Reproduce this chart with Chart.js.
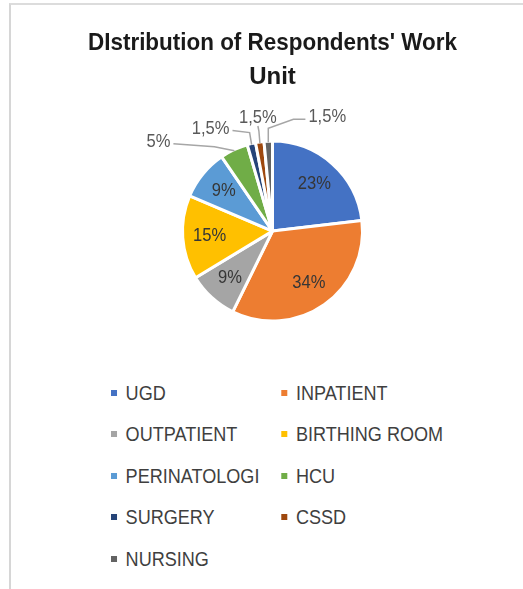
<!DOCTYPE html>
<html>
<head>
<meta charset="utf-8">
<script src="https://cdn.jsdelivr.net/npm/chart.js@4.4.1/dist/chart.umd.min.js"></script>
<style>
  html, body { margin: 0; padding: 0; background: #fff; }
  body { width: 523px; height: 589px; position: relative; overflow: hidden; }
  .frame { position: absolute; left: 9px; top: 3px; width: 514px; height: 586px;
           border-left: 2px solid #d6d6d6; border-top: 2px solid #dcdcdc; }
  #pie { position: absolute; left: 0; top: 0; }
  #legend { position: absolute; left: 111px; top: 372px; display: grid;
            grid-template-columns: 198px 200px; grid-auto-rows: 41.5px;
            font-family: 'Liberation Sans', Arial, sans-serif;
            font-size: 21px; color: #3f3f3f;
            transform: scaleX(0.86); transform-origin: 0 0; }
  #legend div { display: flex; align-items: center; white-space: nowrap; }
  #legend span.box { width: 7px; height: 6px; margin-right: 10px; display: inline-block; }
</style>
</head>
<body>
<div class="frame"></div>
<canvas id="pie" width="523" height="360"></canvas>
<div id="legend"></div>
<script>
// work units and share of respondents (%)
const units = ['UGD', 'INPATIENT', 'OUTPATIENT', 'BIRTHING ROOM', 'PERINATOLOGI', 'HCU', 'SURGERY', 'CSSD', 'NURSING'];
const shares = [23, 34, 9, 15, 9, 5, 1.5, 1.5, 1.5];
const shareLabels = ['23%', '34%', '9%', '15%', '9%', '5%', '1,5%', '1,5%', '1,5%'];
const colors = ['#4472C4', '#ED7D31', '#A5A5A5', '#FFC000', '#5B9BD5', '#70AD47', '#264478', '#9E480E', '#636363'];

// leader-line callouts for the thin slices: label centre + elbow, relative to the slice edge
const callouts = {
  5: { lx: -76, ly: -9, ex: -20, ey: -4 },
  6: { lx: -41, ly: -16, ex: -2, ey: -12 },
  7: { lx: -2, ly: -25, ex: -1, ey: -12 },
  8: { lx: 59, ly: -25, ex: 0, ey: -14 }
};

const FONT = "'Liberation Sans', Arial, sans-serif";

// draws the % labels (inside for big slices, leader lines for small ones)
const pieLabels = {
  id: 'pieLabels',
  afterDatasetsDraw(chart) {
    const ctx = chart.ctx;
    const meta = chart.getDatasetMeta(0);
    ctx.save();
    ctx.font = '18px ' + FONT;
    ctx.textAlign = 'center';
    ctx.textBaseline = 'middle';
    meta.data.forEach((arc, i) => {
      const { x, y, startAngle, endAngle, outerRadius } = arc.getProps(['x', 'y', 'startAngle', 'endAngle', 'outerRadius'], true);
      const mid = (startAngle + endAngle) / 2;
      const c = callouts[i];
      const w = ctx.measureText(shareLabels[i]).width * 0.92;
      if (!c) {
        const r = outerRadius * 0.7;
        ctx.fillStyle = '#363636';
        ctx.fillText(shareLabels[i], x + Math.cos(mid) * r, y + Math.sin(mid) * r, w);
        return;
      }
      const px = x + Math.cos(mid) * (outerRadius - 1);
      const py = y + Math.sin(mid) * (outerRadius - 1);
      const lx = px + c.lx, ly = py + c.ly;
      const ex = px + c.ex, ey = py + c.ey;
      let ax, ay;
      if (Math.abs(c.lx) < 10) { ax = lx; ay = ly + 8; }
      else if (c.lx < 0) { ax = lx + w / 2 + 3; ay = ly + 2; }
      else { ax = lx - w / 2 - 3; ay = ly + 2; }
      ctx.strokeStyle = '#a6a6a6';
      ctx.lineWidth = 1.5;
      ctx.beginPath();
      ctx.moveTo(px, py);
      ctx.lineTo(ex, ey);
      if (c.lx > 10) ctx.lineTo(ax - 12, ay);
      ctx.lineTo(ax, ay);
      ctx.stroke();
      ctx.fillStyle = '#595959';
      ctx.fillText(shareLabels[i], lx, ly, w);
    });
    ctx.restore();
  }
};

const chart = new Chart(document.getElementById('pie'), {
  type: 'pie',
  data: {
    labels: units,
    datasets: [{
      data: shares,
      backgroundColor: colors,
      borderColor: '#ffffff',
      borderWidth: 3,
      radius: 90
    }]
  },
  options: {
    responsive: false,
    animation: false,
    // padding narrows the title box so the long line gets condensed like the original
    layout: { padding: { left: 88, right: 66, top: 0, bottom: 0 } },
    plugins: {
      legend: { display: false },
      tooltip: { enabled: false },
      title: {
        display: true,
        text: ["DIstribution of Respondents' Work", 'Unit'],
        color: '#1a1a1a',
        font: { family: FONT, size: 24, weight: 'bold', lineHeight: 1.4 },
        padding: { top: 27, bottom: 8 }
      }
    }
  },
  plugins: [pieLabels]
});

// legend in two columns, built from the chart data
const legend = document.getElementById('legend');
units.forEach((u, i) => {
  const d = document.createElement('div');
  d.innerHTML = '<span class="box" style="background:' + colors[i] + '"></span>' + u;
  legend.appendChild(d);
});
</script>
</body>
</html>
